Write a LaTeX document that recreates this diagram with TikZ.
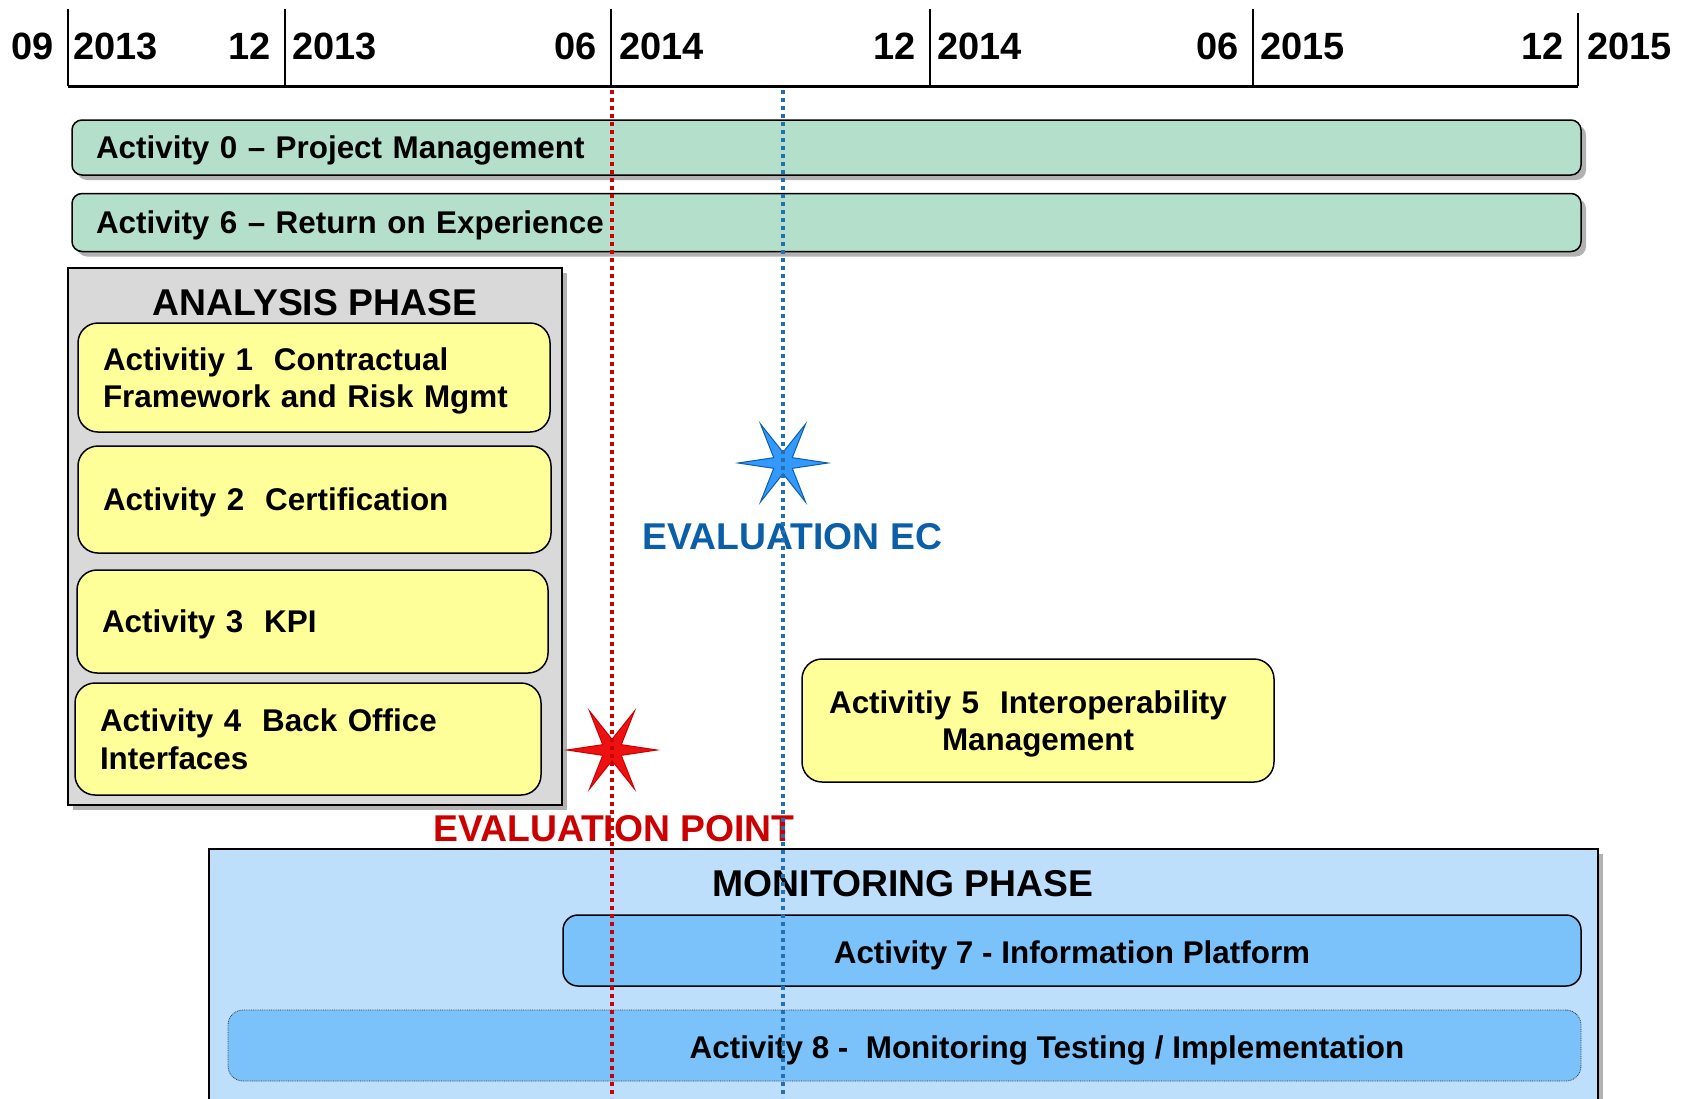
\documentclass[tikz,border=0pt]{standalone}
\usepackage{fontspec}
\setmainfont{Liberation Sans}
\usetikzlibrary{shapes.geometric,shadows}
\definecolor{barGreen}{HTML}{B4E0CB}
\definecolor{phaseGrey}{HTML}{D9D9D9}
\definecolor{actYellow}{HTML}{FFFF99}
\definecolor{monBlue}{HTML}{BDDFFC}
\definecolor{actBlue}{HTML}{7BC1FA}
\definecolor{evalRed}{HTML}{CC0000}
\definecolor{starRed}{HTML}{EE1111}
\definecolor{evalBlue}{HTML}{0B5FA8}
\definecolor{starBlue}{HTML}{3399FF}
\begin{document}
\begin{tikzpicture}[x=1pt,y=-1pt,
  shad/.style={drop shadow={shadow xshift=5pt,shadow yshift=-5pt,fill=black,opacity=0.3}},
  hdr/.style={font=\fontsize{38}{40}\selectfont\bfseries,inner sep=0pt,text depth=0pt},
  acttext/.style={font=\fontsize{31.4}{37.5}\selectfont\bfseries,text depth=0pt},
  twolines/.style={text depth=37.5pt},
  phasetitle/.style={font=\fontsize{37.3}{40}\selectfont\bfseries,inner sep=0pt,text depth=0pt},
  greenbar/.style={shad,draw=black,line width=1.5pt,fill=barGreen,rounded corners=10pt,
    acttext,align=left,inner xsep=24pt,inner ysep=0pt},
  yellowbox/.style={draw=black,line width=1.5pt,fill=actYellow,rounded corners=20pt,
    acttext,inner xsep=25pt,inner ysep=0pt},
  bluebox/.style={draw=black,line width=1.5pt,fill=actBlue,rounded corners=15pt,inner sep=0pt},
  starshape/.style={star,star points=6,star point ratio=4.2,minimum size=90pt,inner sep=0pt,
    shape border rotate=30,line width=1pt},
  reddots/.style={evalRed,line width=3.5pt,dash pattern=on 4pt off 4pt},
  bluedots/.style={evalBlue!90!white,line width=3.5pt,dash pattern=on 4pt off 4pt},
]
\useasboundingbox (0,0) rectangle (1684,1098);
\fill[white] (0,0) rectangle (1684,1098);

% ---- time axis
\coordinate (t0) at (68,86);   \coordinate (t0u) at (68,9);
\coordinate (t1) at (285,86);  \coordinate (t1u) at (285,9);
\coordinate (t2) at (611,86);  \coordinate (t2u) at (611,9);
\coordinate (t3) at (930,86);  \coordinate (t3u) at (930,9);
\coordinate (t4) at (1253,86); \coordinate (t4u) at (1253,9);
\coordinate (t5) at (1578,86); \coordinate (t5u) at (1578,13);
\draw[line width=3pt] (t0) -- (t5);
\foreach \i in {0,...,5} \draw[line width=2pt] (t\i) -- (t\i u);
\node[hdr,anchor=east] (m0) at (54,46) {09};
\node[hdr,anchor=west] (y0) at (73,46) {2013};
\node[hdr,anchor=east] (m1) at (271,46) {12};
\node[hdr,anchor=west] (y1) at (292,46) {2013};
\node[hdr,anchor=east] (m2) at (597,46) {06};
\node[hdr,anchor=west] (y2) at (619,46) {2014};
\node[hdr,anchor=east] (m3) at (916,46) {12};
\node[hdr,anchor=west] (y3) at (937,46) {2014};
\node[hdr,anchor=east] (m4) at (1239,46) {06};
\node[hdr,anchor=west] (y4) at (1260,46) {2015};
\node[hdr,anchor=east] (m5) at (1564,46) {12};
\node[hdr,anchor=west] (y5) at (1587,46) {2015};

% ---- global activities
\node[greenbar,text width=1461pt,minimum height=55pt] (a0) at (826.5,147.5)
  {Activity 0 -- Project Management};
\node[greenbar,text width=1461pt,minimum height=58pt] (a6) at (826.5,222.5)
  {Activity 6 -- Return on Experience};

% ---- analysis phase
\node[shad,draw=black,line width=1.5pt,fill=phaseGrey,minimum width=494pt,minimum height=537pt,inner sep=0pt] (ana) at (315,536.5) {};
\node[phasetitle] (anat) at (315,302) {ANALYSIS PHASE};
\node[yellowbox,twolines,text width=422pt,minimum height=109pt,align=left] (a1) at (314,377.5)
  {Activitiy 1\ \ Contractual\\Framework and Risk Mgmt};
\node[yellowbox,text width=423pt,minimum height=107pt,align=left] (a2) at (314.5,499.5)
  {Activity 2\ \ Certification};
\node[yellowbox,text width=421pt,minimum height=103pt,align=left] (a3) at (312.5,621.5)
  {Activity 3\ \ KPI};
\node[yellowbox,twolines,text width=416pt,minimum height=112pt,align=left] (a4) at (308,739)
  {Activity 4\ \ Back Office\\Interfaces};

% ---- activity 5
\node[yellowbox,twolines,text width=422pt,minimum height=123pt,align=center] (a5) at (1038,720.5)
  {Activitiy 5\ \ Interoperability\rule{20pt}{0pt}\\Management};

% ---- monitoring phase
\node[shad,draw=black,line width=1.5pt,fill=monBlue,minimum width=1389pt,minimum height=280pt,inner sep=0pt,anchor=north] (mon) at (903.5,848) {};
\node[phasetitle] (mont) at (903,883) {MONITORING PHASE};
\node[bluebox,minimum width=1018pt,minimum height=71pt] (a7) at (1072,950.5) {};
\node[acttext,inner sep=0pt] (a7t) at (1072,952.5) {Activity 7 - Information Platform};
\node[bluebox,draw=black!80,line width=0.8pt,densely dotted,minimum width=1353pt,minimum height=71pt] (a8) at (904.5,1045.5) {};
\node[acttext,inner sep=0pt] (a8t) at (1047,1047.5) {Activity 8 -\ \ Monitoring Testing / Implementation};

% ---- evaluation markers
\node[starshape,draw=evalRed,fill=starRed] (sred) at (612,750) {};
\node[starshape,draw=evalBlue,fill=starBlue] (sblue) at (783,463) {};
\node[phasetitle,text=evalBlue] (evec) at (792.5,536) {EVALUATION EC};
\node[phasetitle,text=evalRed] (evpt) at (614,828) {EVALUATION POINT};

\coordinate (rtop) at (612,90); \coordinate (rbot) at (612,1098);
\coordinate (btop) at (783,90); \coordinate (bbot) at (783,1098);
\draw[reddots] (rtop) -- (rbot);
\draw[bluedots] (btop) -- (bbot);
\end{tikzpicture}
\end{document}
